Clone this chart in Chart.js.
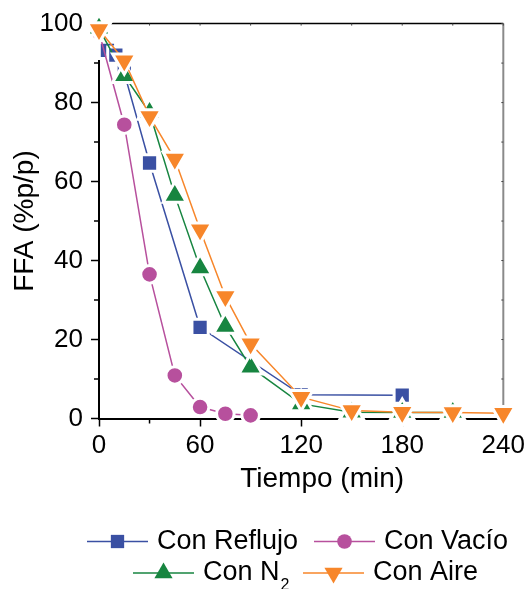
<!DOCTYPE html>
<html>
<head>
<meta charset="utf-8">
<script src="https://cdn.jsdelivr.net/npm/chart.js@4.4.1/dist/chart.umd.min.js"></script>
<style>
  html, body { margin: 0; padding: 0; background: #fff; }
  #wrap { width: 529px; height: 589px; }
</style>
</head>
<body>
<div id="wrap"><canvas id="ffaChart"></canvas></div>
<script>
// FFA (%p/p) frente al tiempo para cada condición
const tReflujo = [0, 5, 10, 15, 30, 60, 120, 180];
const ffaReflujo = [98, 93.2, 92, 87.5, 64.7, 23.1, 6.0, 5.9];

const tVacio = [0, 15, 30, 45, 60, 75, 90];
const ffaVacio = [97.8, 74.4, 36.5, 10.9, 2.9, 1.2, 0.8];

const tN2 = [0, 15, 30, 45, 60, 75, 90, 120, 150, 180, 210];
const ffaN2 = [98.8, 86.8, 77.5, 56.5, 38.1, 23.3, 13.0, 3.7, 1.6, 1.5, 1.5];

const tAire = [0, 15, 30, 45, 60, 75, 90, 120, 150, 180, 210, 240];
const ffaAire = [98.5, 90.6, 76.5, 65.7, 47.8, 30.9, 18.9, 5.4, 2.0, 1.6, 1.5, 1.3];

const xTicks = [0, 60, 120, 180, 240];
const xMinor = [30, 90, 150, 210];
const yTicks = [0, 20, 40, 60, 80, 100];
const yMinor = [10, 30, 50, 70, 90];

const FONT = '"Liberation Sans", Arial, Helvetica, sans-serif';
const BLUE = '#3a50a3';
const MAGENTA = '#b7509d';
const GREEN = '#178540';
const ORANGE = '#f7862a';

function pts(ts, vs) {
    return ts.map((t, i) => ({ x: t, y: vs[i] }));
}

// white ring around each marker so the lines stop short of it
function series(label, ts, vs, color, style, radius, order, rotation) {
    return {
        label: label,
        data: pts(ts, vs),
        borderColor: color,
        backgroundColor: color,
        borderWidth: 1.5,
        pointStyle: style,
        pointRadius: radius,
        pointRotation: rotation || 0,
        pointBackgroundColor: color,
        pointBorderColor: '#fff',
        pointBorderWidth: 3,
        tension: 0,
        clip: false,
        order: order
    };
}

// legend swatch sizes (filled marker only)
const legendMarks = [
    { style: 'rect', radius: 9.4, rotation: 0 },
    { style: 'circle', radius: 7.3, rotation: 0 },
    { style: 'triangle', radius: 10.5, rotation: 0 },
    { style: 'triangle', radius: 10.5, rotation: 180 }
];
const legendSpots = [
    { x: 87, y: 541.5 }, { x: 314, y: 541.5 },
    { x: 133, y: 573 }, { x: 303, y: 573 }
];

const framePlugin = {
    id: 'frame',
    beforeDatasetsDraw(chart) {
        const { ctx, chartArea: a, scales } = chart;
        ctx.save();
        // top and right spines
        ctx.strokeStyle = '#000';
        ctx.lineWidth = 1.5;
        ctx.beginPath();
        ctx.moveTo(a.left, a.top);
        ctx.lineTo(a.right, a.top);
        ctx.stroke();
        ctx.strokeStyle = '#8a8a8a';
        ctx.lineWidth = 2;
        ctx.beginPath();
        ctx.moveTo(a.right, a.top);
        ctx.lineTo(a.right, a.bottom);
        ctx.stroke();

        // minor ticks outside, small ticks inside top/right
        ctx.strokeStyle = '#000';
        ctx.lineWidth = 1.5;
        ctx.beginPath();
        xMinor.forEach(v => {
            const px = scales.x.getPixelForValue(v);
            ctx.moveTo(px, a.bottom);
            ctx.lineTo(px, a.bottom + 5);
        });
        yMinor.forEach(v => {
            const py = scales.y.getPixelForValue(v);
            ctx.moveTo(a.left, py);
            ctx.lineTo(a.left - 5, py);
        });
        ctx.stroke();

        ctx.lineWidth = 1;
        ctx.strokeStyle = '#444';
        ctx.beginPath();
        xTicks.concat(xMinor).forEach(v => {
            const px = scales.x.getPixelForValue(v);
            ctx.moveTo(px, a.top);
            ctx.lineTo(px, a.top + 2);
        });
        yTicks.concat(yMinor).forEach(v => {
            const py = scales.y.getPixelForValue(v);
            ctx.moveTo(a.right, py);
            ctx.lineTo(a.right - 2, py);
        });
        ctx.stroke();
        ctx.restore();
    },
    afterDraw(chart) {
        const { ctx, chartArea: a } = chart;
        ctx.save();
        ctx.fillStyle = '#000';

        // x axis title
        ctx.font = '28px ' + FONT;
        ctx.textAlign = 'center';
        ctx.textBaseline = 'middle';
        ctx.fillText('Tiempo (min)', (a.left + a.right) / 2 + 21, 479);

        // legend: line — marker — line, then the label
        chart.data.datasets.forEach((ds, i) => {
            const spot = legendSpots[i];
            const mark = legendMarks[i];
            ctx.strokeStyle = ds.borderColor;
            ctx.lineWidth = 1.5;
            ctx.beginPath();
            ctx.moveTo(spot.x, spot.y);
            ctx.lineTo(spot.x + 61, spot.y);
            ctx.stroke();

            ctx.fillStyle = ds.backgroundColor;
            Chart.helpers.drawPoint(ctx, {
                pointStyle: mark.style,
                radius: mark.radius,
                rotation: mark.rotation,
                borderWidth: 0
            }, spot.x + 30.5, spot.y);

            ctx.fillStyle = '#000';
            ctx.font = '27px ' + FONT;
            ctx.textAlign = 'left';
            ctx.textBaseline = 'middle';
            const label = ds.label;
            const sub = label.indexOf('₂');
            if (sub >= 0) {
                const main = label.slice(0, sub);
                ctx.fillText(main, spot.x + 70, spot.y);
                const w = ctx.measureText(main).width;
                ctx.font = '16px ' + FONT;
                ctx.fillText('2', spot.x + 71 + w, spot.y + 13);
            } else {
                ctx.fillText(label, spot.x + 70, spot.y);
            }
        });
        ctx.restore();
    }
};

const ctx = document.getElementById('ffaChart');
new Chart(ctx.getContext('2d'), {
    type: 'line',
    data: {
        datasets: [
            series('Con Reflujo', tReflujo, ffaReflujo, BLUE, 'rect', 11.5, 3),
            series('Con Vacío', tVacio, ffaVacio, MAGENTA, 'circle', 8.8, 2),
            series('Con N₂', tN2, ffaN2, GREEN, 'triangle', 13.5, 1),
            series('Con Aire', tAire, ffaAire, ORANGE, 'triangle', 13.5, 0, 180)
        ]
    },
    options: {
        responsive: true,
        maintainAspectRatio: false,
        animation: false,
        events: [],
        layout: { padding: { top: 23, right: 23.5, left: 0, bottom: 0 } },
        plugins: {
            legend: { display: false },
            tooltip: { enabled: false }
        },
        scales: {
            x: {
                type: 'linear',
                min: 0,
                max: 240,
                afterBuildTicks: s => { s.ticks = xTicks.map(v => ({ value: v })); },
                afterFit: s => { s.height = 170.5; },
                ticks: { font: { size: 26, family: FONT }, color: '#000', padding: 4, maxRotation: 0 },
                grid: { drawOnChartArea: false, drawTicks: true, tickLength: 8, tickColor: '#000', tickWidth: 1.5 },
                border: { display: true, color: '#000', width: 2 }
            },
            y: {
                min: 0,
                max: 100,
                afterBuildTicks: s => { s.ticks = yTicks.map(v => ({ value: v })); },
                afterFit: s => { s.width = 99; },
                ticks: { font: { size: 26, family: FONT }, color: '#000', padding: 8 },
                grid: { drawOnChartArea: false, drawTicks: true, tickLength: 8, tickColor: '#000', tickWidth: 1.5 },
                border: { display: true, color: '#000', width: 2 },
                title: {
                    display: true,
                    text: 'FFA (%p/p)',
                    color: '#000',
                    font: { size: 28, family: FONT },
                    padding: { top: 8, bottom: 0 }
                }
            }
        }
    },
    plugins: [framePlugin]
});
</script>
</body>
</html>
